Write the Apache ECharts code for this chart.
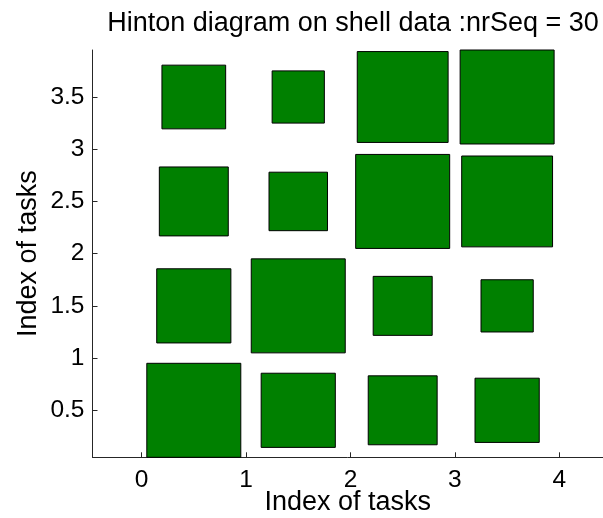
<!DOCTYPE html>
<html>
<head>
<meta charset="utf-8">
<script src="https://cdn.jsdelivr.net/npm/echarts@6/dist/echarts.min.js"></script>
<style>
html,body{margin:0;padding:0;background:#fff;}
#c{width:603px;height:518px;}
</style>
</head>
<body>
<div id="c"></div>
<script>
// Hinton diagram data: square side lengths (axis units) at each cell
const xCenters = [0.5, 1.5, 2.5, 3.5];
const yCenters = [0.5, 1.5, 2.5, 3.5];
const sidesRow0 = [0.90, 0.71, 0.66, 0.615];  // y = 0.5
const sidesRow1 = [0.71, 0.90, 0.565, 0.50];  // y = 1.5
const sidesRow2 = [0.66, 0.56, 0.90, 0.87];   // y = 2.5
const sidesRow3 = [0.61, 0.50, 0.87, 0.90];   // y = 3.5
const xTicks = [0, 1, 2, 3, 4];
const yTicks = [0.5, 1, 1.5, 2, 2.5, 3, 3.5];
const titleText = 'Hinton diagram on shell data :nrSeq = 30';
const xName = 'Index of tasks';
const yName = 'Index of tasks';

const rows = [sidesRow0, sidesRow1, sidesRow2, sidesRow3];
const data = [];
rows.forEach((row, i) => row.forEach((s, j) => data.push([xCenters[j], yCenters[i], s])));

const font = 'Liberation Sans, Arial, Helvetica, sans-serif';
const chart = echarts.init(document.getElementById('c'), null, {renderer: 'canvas'});
chart.setOption({
  backgroundColor: '#fff',
  animation: false,
  title: {
    text: titleText, left: 348, top: 5, textAlign: 'center',
    textStyle: {fontFamily: font, fontSize: 27, fontWeight: 'normal', color: '#000'}
  },
  grid: {left: 92.5, right: 0, top: 50, bottom: 60.7, containLabel: false, outerBoundsMode: 'none'},
  xAxis: {
    type: 'value', min: -0.47, max: 4.418,
    name: xName, nameLocation: 'middle', nameGap: 32, nameMoveOverlap: false,
    nameTextStyle: {fontFamily: font, fontSize: 27, color: '#000'},
    axisLine: {show: true, onZero: false, lineStyle: {color: '#262626', width: 1}},
    axisTick: {show: true, inside: true, length: 5, customValues: xTicks, lineStyle: {color: '#262626'}},
    axisLabel: {customValues: xTicks, fontFamily: font, fontSize: 24.5, color: '#000', margin: 10,
      showMinLabel: true, showMaxLabel: true},
    splitLine: {show: false}
  },
  yAxis: {
    type: 'value', min: 0.05, max: 3.95,
    name: yName, nameLocation: 'middle', nameGap: 50, nameRotate: 90, nameMoveOverlap: false,
    nameTextStyle: {fontFamily: font, fontSize: 27, color: '#000'},
    axisLine: {show: true, onZero: false, lineStyle: {color: '#262626', width: 1}},
    axisTick: {show: true, inside: true, length: 5, customValues: yTicks, lineStyle: {color: '#262626'}},
    axisLabel: {customValues: yTicks, fontFamily: font, fontSize: 24.5, color: '#000', margin: 8},
    splitLine: {show: false}
  },
  series: [{
    type: 'custom',
    clip: false,
    data: data,
    encode: {x: 0, y: 1},
    renderItem: function (params, api) {
      const cx = api.value(0), cy = api.value(1), s = api.value(2);
      const p = api.coord([cx - s / 2, cy + s / 2]);
      const sz = api.size([s, s]);
      return {
        type: 'rect',
        shape: {x: p[0], y: p[1], width: sz[0], height: sz[1]},
        style: {fill: '#008000', stroke: '#000', lineWidth: 1}
      };
    }
  }]
});
</script>
</body>
</html>
